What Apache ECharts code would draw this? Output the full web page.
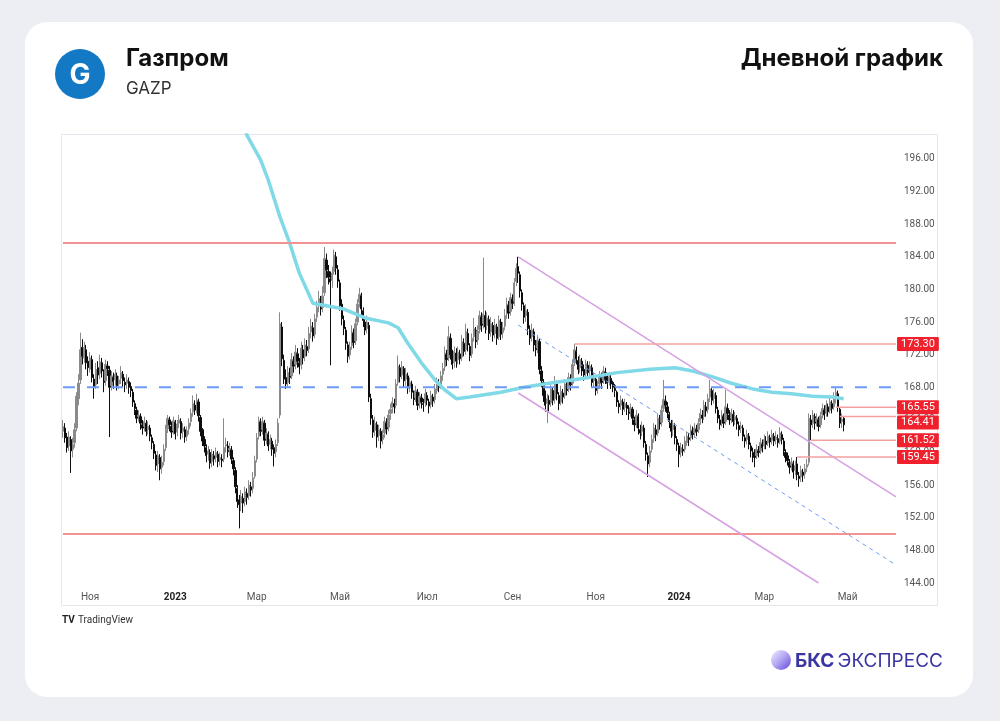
<!DOCTYPE html>
<html lang="ru">
<head>
<meta charset="utf-8">
<title>Газпром — дневной график</title>
<script src="https://cdn.jsdelivr.net/npm/echarts@6/dist/echarts.min.js"></script>
<style>
  html, body { margin: 0; padding: 0; background: #eceef3; }
  .card { position: absolute; left: 25px; top: 22px; width: 948px; height: 675px; background: #fff; border-radius: 22px; }
  #chart { position: absolute; left: 0; top: 0; width: 1000px; height: 721px; }
</style>
</head>
<body>
<div class="card"></div>
<div id="chart"></div>
<script>
// ось X: торговые дни (пн–пт) от первой свечи до правого края графика
const firstDay = '2022-10-12'
const lastAxisDay = '2024-06-05'
const monthNames = ['Янв', 'Фев', 'Мар', 'Апр', 'Май', 'Июн', 'Июл', 'Авг', 'Сен', 'Окт', 'Ноя', 'Дек']

// дневные свечи [open, close, low, high]
const candles2022 = [
  [162.6,163.2,161.8,164.0],[163.0,161.8,161.2,163.6],[161.9,160.6,160.0,162.4],[160.8,161.9,160.2,162.6],[161.6,160.2,157.5,162.0],
  [160.4,161.0,159.4,161.8],[161.2,162.8,160.6,163.6],[163.0,166.9,162.6,167.4],[166.6,168.5,165.8,169.6],[168.9,172.6,168.4,174.7],
  [172.9,171.8,170.8,173.9],[171.6,172.9,171.0,173.6],[172.6,171.0,170.2,173.2],[171.2,170.4,169.4,171.8],[170.2,171.6,169.8,172.3],
  [171.4,169.2,168.6,171.9],[169.0,168.1,166.6,169.6],[168.3,170.2,167.8,171.0],[170.4,169.5,168.4,171.2],[169.7,171.1,169.0,172.0],
  [171.0,170.0,169.2,171.6],[169.8,168.6,167.4,170.2],[168.8,170.8,168.2,171.4],[170.6,170.3,169.4,171.2],[170.1,168.0,161.9,170.6],
  [168.2,169.4,167.6,170.0],[169.2,168.7,167.8,169.8],[168.9,169.6,168.2,170.2],[169.4,168.2,167.6,169.8],[168.4,168.9,167.8,169.4],
  [169.1,169.8,168.4,170.6],[169.6,168.8,168.0,170.0],[168.6,168.3,167.4,169.2],[168.5,168.9,167.8,169.6],[168.7,168.0,167.2,169.2],
  [168.1,167.6,166.8,168.6],[167.4,166.2,165.6,167.8],[166.0,165.4,164.6,166.4],[165.2,164.2,163.6,165.6],[164.4,164.6,163.8,165.2],
  [164.4,163.6,162.8,164.8],[163.4,163.0,162.2,164.0],[163.2,163.8,162.6,164.4],[163.6,162.6,162.0,164.0],[162.8,163.2,162.2,163.8],
  [163.0,162.0,161.4,163.4],[161.8,161.2,160.4,162.2],[161.0,159.9,159.2,161.4],[159.7,158.4,157.8,160.2],[158.6,159.6,157.6,160.2],
  [159.4,158.0,156.6,159.8],[158.2,158.8,157.4,159.6],[158.9,160.4,158.4,161.0],[160.6,162.8,160.2,163.4],[162.9,164.2,162.4,164.6],
  [164.0,163.4,162.6,164.4],[163.2,162.5,161.8,163.8],[162.7,163.9,162.2,164.4]
]
const candles2023a = [
  [163.7,162.3,161.6,164.0],[162.5,163.5,162.0,164.0],[163.6,164.0,163.0,164.6],[163.8,162.4,161.6,164.2],[162.6,163.0,161.8,163.6],
  [162.8,161.9,161.2,163.2],[162.0,162.7,161.4,163.2],[162.9,163.6,162.2,164.2],[163.8,164.8,163.2,165.4],[165.0,166.0,164.4,167.0],
  [165.8,165.2,164.6,166.4],[165.4,166.4,164.8,167.2],[166.2,164.5,163.8,166.6],[164.3,162.6,162.0,164.6],[162.8,161.4,160.8,163.0],
  [161.6,160.8,160.0,162.0],[160.6,159.6,158.8,161.0],[159.8,160.2,159.0,160.8],[160.0,158.7,158.0,160.4],[158.9,159.8,158.2,160.4],
  [159.6,159.2,158.4,160.2],[159.4,160.0,158.8,160.6],[159.8,158.9,158.2,160.2],[159.1,159.4,158.4,160.0],[159.2,159.0,158.2,159.8],
  [159.2,160.6,158.8,164.2],[160.8,161.0,160.0,161.8],[160.8,160.1,159.4,161.4],[160.3,160.5,159.6,161.2],[160.3,159.2,158.6,160.8],
  [159.0,158.0,157.2,159.4],[157.8,155.8,155.0,158.2],[155.6,154.0,153.2,156.0],[154.2,153.6,150.7,154.8],[153.8,154.6,152.8,155.4],
  [154.4,153.8,152.6,155.0],[154.0,155.2,153.4,155.8],[155.0,154.5,153.6,155.6],[154.7,156.0,154.2,156.6],[155.8,155.4,154.6,156.4],
  [155.6,156.9,155.0,157.6],[157.1,159.0,156.8,159.6],[159.2,161.8,158.8,162.4],[162.0,163.9,161.6,164.4],[163.7,162.6,162.0,164.2],
  [162.8,163.8,162.2,164.4],[163.6,161.5,160.8,164.0],[161.7,162.4,161.0,163.0],[162.2,160.8,160.2,162.6],[161.0,161.6,160.4,162.2],
  [161.4,160.4,159.6,161.8],[160.6,159.9,158.3,161.0],[160.1,161.0,159.4,161.6],[161.2,163.6,160.8,164.2],[164.6,175.8,164.2,177.2],
  [175.4,171.5,170.6,176.0],[171.3,169.0,168.4,172.0],[169.2,168.4,167.8,170.2],[168.6,169.8,168.0,170.6],[169.6,169.2,168.4,170.4],
  [169.4,171.4,169.0,172.2],[171.2,170.6,169.8,171.8],[170.8,172.3,170.2,173.2],[172.1,171.2,170.4,172.8],[171.0,170.5,169.6,171.6],
  [170.7,172.8,170.2,173.6],[172.6,171.6,170.8,173.2],[171.8,173.2,171.2,174.0],[173.0,172.5,171.8,173.8],[172.7,174.6,172.2,175.4],
  [174.8,175.5,174.0,176.4],[175.3,174.3,173.6,176.0],[174.5,176.4,174.0,177.0],[176.6,177.8,176.0,178.6],[178.0,178.9,177.2,179.8],
  [178.7,177.6,176.8,179.2],[177.8,179.2,177.2,180.4],[179.6,183.8,179.2,185.2],[183.6,182.4,181.4,184.4],[182.2,181.5,180.6,183.0],
  [181.3,180.9,170.7,182.2],[181.1,182.0,180.2,182.8],[182.2,184.2,181.8,184.9],[184.0,182.6,181.8,184.6],[182.4,181.0,180.2,183.0],
  [180.8,178.0,177.4,181.2],[178.2,176.4,175.6,178.8],[176.2,175.2,174.4,176.8],[175.0,173.4,172.6,175.4],[173.2,171.8,171.0,173.6],
  [172.0,172.9,171.4,173.6],[173.1,174.8,172.6,175.6],[174.6,173.5,172.8,175.2],[173.7,175.8,173.2,176.4],[176.0,178.2,175.6,178.8],
  [178.4,179.4,177.8,180.2],[179.2,177.6,176.8,179.6],[177.4,176.2,175.4,177.8],[176.0,175.0,174.4,176.6],[175.2,176.0,174.6,176.8],
  [175.6,166.8,166.2,176.0],[166.6,164.2,163.4,167.2],[164.0,162.5,161.8,164.6],[162.7,163.6,162.0,164.4],[163.4,161.9,160.6,163.8],
  [162.1,162.8,161.4,163.4],[162.6,161.4,160.5,163.0],[161.6,162.2,161.0,162.8],[162.4,163.8,161.8,164.4],[163.6,162.9,162.2,164.2],
  [163.1,164.6,162.6,165.2],[164.8,165.3,164.0,166.0],[165.5,166.2,164.8,166.8],[166.0,165.6,164.8,166.6],[165.8,168.4,165.4,169.0],
  [168.6,170.6,168.2,171.9],[170.4,169.3,168.6,170.8],[169.5,170.5,169.0,171.2],[170.3,168.8,168.0,170.6],[169.0,169.6,168.2,170.4],
  [169.4,167.9,167.2,169.8],[168.1,168.6,167.4,169.2],[168.4,167.4,166.6,168.8],[167.2,166.5,165.8,167.6],[166.7,167.6,166.2,168.2],
  [167.4,165.8,165.2,167.8],[166.0,166.9,165.4,167.4],[166.7,166.2,165.4,167.2],[166.0,165.9,165.0,166.6],[166.1,167.2,165.6,167.8]
]
const candles2023b = [
  [167.0,166.4,165.8,167.4],[166.2,165.7,164.8,166.6],[165.9,167.0,165.4,167.6],[166.8,166.3,165.6,167.2],[166.5,167.8,166.0,168.4],
  [167.6,168.6,167.2,169.2],[168.4,168.0,167.4,169.0],[168.2,169.4,167.8,170.0],[169.6,170.3,168.8,171.0],[170.5,172.2,170.0,173.0],
  [172.0,171.4,170.6,172.6],[171.6,174.2,171.2,175.5],[174.0,172.0,171.4,174.6],[172.2,170.8,170.2,172.6],[171.0,172.4,170.4,173.0],
  [172.2,171.2,170.4,172.8],[171.4,172.3,170.8,173.0],[172.1,171.5,170.8,172.6],[171.7,173.6,171.2,174.4],[173.4,172.4,171.8,174.0],
  [172.6,174.8,172.0,175.8],[174.6,173.2,172.4,175.2],[173.0,171.9,171.2,173.4],[172.1,174.0,171.6,174.6],[174.2,175.2,173.6,176.5],
  [175.0,173.6,172.8,175.4],[173.8,174.9,173.2,175.6],[175.1,176.8,174.6,177.4],[176.6,175.6,174.8,177.2],[175.8,177.0,175.2,183.9],
  [176.8,175.4,174.6,177.4],[175.6,176.5,175.0,177.2],[176.3,174.6,173.8,176.8],[174.8,175.8,174.2,176.6],[175.6,174.4,173.6,176.0],
  [174.6,175.6,174.0,176.4],[175.4,174.0,173.2,175.8],[174.2,176.2,173.8,176.8],[176.0,174.5,173.8,176.4],[174.7,175.3,174.0,176.0],
  [175.5,176.8,175.0,177.6],[177.0,178.2,176.4,179.0],[178.0,177.1,176.4,178.6],[177.3,179.0,176.8,179.6],[178.8,178.3,177.6,179.4],
  [178.5,180.8,178.0,181.4],[181.0,182.6,180.4,183.2],[182.8,182.0,180.8,184.0],[181.8,179.8,179.0,182.2],[179.6,178.2,177.4,180.0],
  [178.0,176.6,175.8,178.4],[176.8,177.4,176.0,178.2],[177.2,175.2,174.4,177.6],[175.0,174.0,173.2,175.6],[174.2,175.0,173.6,175.8],
  [174.8,173.2,172.4,175.2],[173.4,172.6,171.8,173.8],[172.8,173.8,172.2,174.4],[173.6,170.2,169.6,174.0],[170.0,168.8,168.0,170.6],
  [168.6,167.0,166.2,169.0],[167.2,165.8,165.0,167.6],[166.0,166.6,163.6,167.2],[166.4,165.9,165.0,167.0],[166.1,167.8,165.6,168.4],
  [167.6,166.4,165.8,168.0],[166.6,168.6,166.0,169.4],[168.4,167.2,166.4,168.8],[167.0,166.0,165.2,167.4],[166.2,167.5,165.8,168.2],
  [167.3,166.8,166.0,167.8],[167.0,168.4,166.6,169.0],[168.2,167.6,167.0,168.8],[167.8,169.2,167.4,169.8],[169.0,168.3,167.6,169.6],
  [168.5,170.8,168.2,171.4],[171.0,172.6,170.6,173.3],[172.4,171.5,170.8,173.0],[171.3,170.2,169.6,171.8],[170.4,171.4,169.8,172.0],
  [171.2,170.0,169.4,171.6],[170.2,169.5,168.8,170.8],[169.7,170.9,169.2,171.4],[170.7,169.8,169.0,171.2],[170.0,170.6,169.4,171.2],
  [170.4,168.6,168.0,170.8],[168.8,169.2,168.0,169.8],[169.0,167.6,167.0,169.4],[167.8,168.2,167.2,168.8],[168.4,169.4,167.8,170.0],
  [169.2,168.6,167.8,169.8],[168.8,170.0,168.4,170.6],[169.8,169.0,168.4,170.4],[169.2,168.5,167.8,169.6],[168.7,169.3,168.2,169.8],
  [169.1,168.4,167.8,169.6],[168.6,168.0,167.4,168.8],[168.2,167.6,166.8,168.4],[167.4,166.2,165.6,167.6],[166.0,165.6,164.8,166.4],
  [165.8,166.4,165.2,167.0],[166.2,165.3,164.6,166.6],[165.5,166.0,165.0,166.6],[165.8,165.4,164.6,166.2],[165.2,164.8,164.0,165.8],
  [165.0,165.5,164.4,166.0],[165.3,164.2,163.4,165.6],[164.0,163.4,162.6,164.4],[163.6,164.6,163.0,165.2],[164.4,163.0,162.2,164.8],
  [162.8,162.4,161.6,163.4],[162.6,163.2,162.0,163.8],[163.0,161.2,160.6,163.4],[161.0,159.8,159.0,161.4],[159.6,158.6,157.0,160.0],
  [158.8,160.2,158.2,160.8],[160.4,161.6,160.0,162.2],[161.8,163.0,161.2,163.6],[162.8,162.2,161.4,163.4],[162.4,164.2,162.0,164.8],
  [164.0,163.5,162.8,164.6],[163.7,165.2,163.2,165.8],[165.4,166.5,165.0,168.9],[166.3,165.8,165.0,167.0],[165.6,164.9,164.2,166.2],
  [164.7,163.8,163.0,165.0],[163.6,162.6,161.8,164.0],[162.8,163.4,162.0,164.0],[163.2,161.8,161.0,163.6],[161.6,161.0,160.2,162.0]
]
const candles2024 = [
  [160.8,159.8,158.2,161.2],[160.0,160.6,159.4,161.2],[160.4,160.2,159.6,161.0],[160.4,161.4,160.0,162.0],[161.2,162.0,160.8,162.6],
  [161.8,161.6,160.8,162.4],[161.8,162.8,161.4,163.4],[162.6,162.2,161.6,163.2],[162.4,163.0,161.8,163.6],[162.8,162.6,162.0,163.4],
  [162.8,163.6,162.4,164.2],[163.8,164.8,163.4,165.4],[164.6,164.2,163.6,165.2],[164.4,165.8,164.0,166.4],[165.6,165.1,164.4,166.2],
  [165.3,166.6,164.8,167.2],[166.8,167.8,166.2,168.9],[167.6,166.4,165.8,168.0],[166.6,167.2,166.0,167.8],[167.0,165.4,164.8,167.4],
  [165.2,164.2,163.6,165.6],[164.0,163.4,162.8,164.6],[163.6,164.6,163.2,165.2],[164.4,163.6,163.0,164.8],[163.8,165.6,163.4,167.7],
  [165.4,164.8,164.0,166.0],[164.6,164.0,163.4,165.2],[164.2,164.9,163.6,165.4],[164.7,163.8,163.2,165.2],[164.0,164.4,163.4,165.0],
  [164.2,163.5,162.8,164.6],[163.3,162.8,162.0,163.8],[163.0,163.2,162.4,163.8],[163.0,162.0,161.4,163.4],[161.8,161.4,160.6,162.2],
  [161.6,162.2,161.0,162.8],[162.0,161.0,160.4,162.4],[160.8,160.2,159.4,161.2],[160.0,159.6,158.8,160.6],[159.8,159.4,158.2,160.4],
  [159.6,160.4,159.2,161.0],[160.2,160.0,159.4,160.8],[160.2,161.2,159.8,161.8],[161.0,160.6,160.0,161.6],[160.8,161.6,160.4,162.2],
  [161.4,161.0,160.4,162.0],[161.2,162.0,160.8,162.6],[161.8,161.3,160.6,162.2],[161.5,162.2,161.0,162.8],[162.0,161.4,160.8,162.4],
  [161.6,161.9,161.0,162.6],[161.7,161.2,160.6,162.2],[161.4,162.4,161.0,163.1],[162.2,161.6,161.0,162.6],[161.4,160.2,159.6,161.8],
  [160.0,159.4,158.8,160.4],[159.6,159.0,158.4,160.0],[158.8,158.2,157.4,159.2],[158.4,158.8,157.8,159.4],[158.6,157.6,156.8,159.0],
  [157.8,158.4,157.2,159.0],[158.6,157.3,156.6,159.45],[157.1,156.8,155.8,157.6],[157.0,157.8,156.4,158.4],[157.6,157.2,156.4,158.0],
  [157.4,158.0,156.8,158.6],[158.2,158.5,157.6,159.2],[158.8,164.2,158.4,164.8],[164.0,163.4,161.52,164.6],[163.6,164.6,163.0,165.2],
  [164.4,163.6,162.8,164.8],[163.8,164.2,163.2,164.8],[164.0,163.2,162.6,164.4],[163.4,164.5,163.0,165.0],[164.7,165.4,164.2,166.0],
  [165.2,164.6,164.0,165.8],[164.8,165.8,164.4,166.4],[165.6,165.0,164.4,166.0],[165.2,166.2,164.8,166.8],[166.0,165.4,164.8,166.4],
  [165.6,166.8,165.2,167.4],[166.6,167.4,166.0,168.1],[167.2,165.55,165.0,167.6],[165.3,163.6,163.0,165.5],[163.8,164.1,163.0,164.8],
  [164.2,163.4,162.6,164.41]
]

// скользящая средняя (точки)
const maPoints = [
  ['2023-02-13', 203.5], ['2023-02-22', 198.9], ['2023-03-03', 195.9], ['2023-03-09', 193.4], ['2023-03-17', 188.9],
  ['2023-03-24', 185.7], ['2023-03-31', 182.0], ['2023-04-11', 178.3], ['2023-04-20', 178.0], ['2023-05-03', 177.6],
  ['2023-05-18', 176.5], ['2023-06-05', 175.9], ['2023-06-12', 175.3], ['2023-06-19', 173.4], ['2023-06-28', 171.0],
  ['2023-07-07', 168.9], ['2023-07-14', 167.7], ['2023-07-24', 166.6], ['2023-08-02', 166.8], ['2023-08-24', 167.4],
  ['2023-09-11', 168.0], ['2023-09-28', 168.5], ['2023-10-24', 169.1], ['2023-11-16', 169.8], ['2023-12-11', 170.2],
  ['2023-12-28', 170.4], ['2024-01-10', 170.0], ['2024-01-24', 169.3], ['2024-02-07', 168.5], ['2024-02-22', 167.8],
  ['2024-03-07', 167.4], ['2024-03-21', 167.2], ['2024-04-05', 166.9], ['2024-04-19', 166.8], ['2024-04-29', 166.6]
]

// горизонтальные уровни
const rangeTop = 185.7
const rangeBottom = 150.0
const midLevel = 168.0
const priceLevels = [
  { value: 173.30, from: '2023-10-17' },
  { value: 165.55, from: '2024-04-23' },
  { value: 164.41, from: '2024-04-25' },
  { value: 161.52, from: '2024-04-04' },
  { value: 159.45, from: '2024-03-26' }
]

// нисходящий канал
const channelUpper = [['2023-09-06', 184.0], ['2024-06-05', 154.55]]
const channelMiddle = [['2023-09-06', 175.64], ['2024-06-05', 146.21]]
const channelLower = [['2023-09-06', 167.3], ['2024-04-10', 144.0]]

// оси
const yMin = 144
const yMax = 198.94
const yStep = 4

const days = []
for (let t = Date.parse(firstDay); t <= Date.parse(lastAxisDay); t += 864e5) {
  const wd = new Date(t).getUTCDay()
  if (wd !== 0 && wd !== 6) days.push(new Date(t).toISOString().slice(0, 10))
}
const lastDay = days[days.length - 1]
const candles = [...candles2022, ...candles2023a, ...candles2023b, ...candles2024]

// подписи на оси X — первый день каждого второго месяца
const monthOf = d => +d.slice(5, 7) - 1
const labelIdx = new Set()
days.forEach((d, i) => {
  if (i > 0 && monthOf(d) !== monthOf(days[i - 1]) && monthOf(d) % 2 === 0) labelIdx.add(i)
})

// плашки, которые TradingView раздвигает, чтобы не налезали друг на друга
const labelShift = { '164.41': 6 }

const lineSeries = (data, color, width, type, extra) => ({
  type: 'line',
  data,
  symbol: 'none',
  silent: true,
  lineStyle: { color, width, type },
  z: 4,
  ...extra
})

const series = [
  {
    type: 'candlestick',
    data: candles,
    barWidth: '90%',
    itemStyle: {
      color: '#8a8a8a',
      color0: '#0d0d0d',
      borderColor: '#8a8a8a',
      borderColor0: '#0d0d0d',
      borderWidth: 1
    },
    z: 2
  },
  lineSeries(maPoints, '#80d9e6', 3.5, 'solid', { z: 3 }),
  lineSeries([[days[0], rangeTop], [lastDay, rangeTop]], '#f39292', 2, 'solid'),
  lineSeries([[days[0], rangeBottom], [lastDay, rangeBottom]], '#f39292', 2, 'solid'),
  lineSeries([[days[0], midLevel], [lastDay, midLevel]], '#6e9bf3', 2, [12, 12]),
  lineSeries(channelUpper, '#d6a0e2', 1.5, 'solid'),
  lineSeries(channelLower, '#d6a0e2', 1.5, 'solid'),
  lineSeries(channelMiddle, '#6e9bf3', 1, [4, 4]),
  ...priceLevels.map(l => lineSeries([[l.from, l.value], [lastDay, l.value]], '#f5a0a0', 1.5, 'solid', {
    z: 5,
    endLabel: {
      show: true,
      formatter: () => l.value.toFixed(2),
      distance: 1,
      offset: [0, labelShift[l.value.toFixed(2)] || 0],
      backgroundColor: '#f0212c',
      color: '#fff',
      fontSize: 11,
      fontFamily: 'Roboto',
      padding: [2, 4, 1, 4],
      borderRadius: 1
    }
  }))
]

const bksGrad = new echarts.graphic.LinearGradient(0, 0, 1, 1, [
  { offset: 0, color: '#f1eeff' },
  { offset: 0.45, color: '#b8acf4' },
  { offset: 1, color: '#5f48dc' }
])

const option = {
  backgroundColor: 'transparent',
  animation: false,
  grid: { left: 62, right: 103, top: 135, bottom: 138, containLabel: false },
  xAxis: {
    type: 'category',
    data: days,
    boundaryGap: true,
    axisLine: { show: false },
    axisTick: { show: false },
    splitLine: { show: false },
    axisLabel: {
      interval: i => labelIdx.has(i),
      margin: 9,
      color: '#555',
      fontSize: 10,
      fontFamily: 'Roboto',
      formatter: v => (monthOf(v) === 0 ? `{y|${v.slice(0, 4)}}` : monthNames[monthOf(v)]),
      rich: { y: { fontWeight: 'bold', color: '#222', fontSize: 10, fontFamily: 'Roboto' } }
    }
  },
  yAxis: {
    type: 'value',
    position: 'right',
    min: yMin,
    max: yMax,
    interval: yStep,
    axisLine: { show: false },
    axisTick: { show: false },
    splitLine: { show: false },
    axisLabel: {
      color: '#555',
      fontSize: 10,
      fontFamily: 'Roboto',
      margin: 7,
      showMaxLabel: false,
      formatter: v => v.toFixed(2)
    }
  },
  series,
  graphic: [
    // рамка графика
    { type: 'rect', shape: { x: 61.5, y: 134.5, width: 876, height: 471 }, style: { fill: 'none', stroke: '#e4e6ed', lineWidth: 1 }, silent: true },
    // логотип Газпрома
    { type: 'circle', shape: { cx: 80, cy: 74, r: 25 }, style: { fill: '#1479c4' } },
    { type: 'text', x: 80, y: 76, style: { text: 'G', fill: '#fff', font: 'bold 28px Inter', align: 'center', verticalAlign: 'middle' } },
    { type: 'text', x: 126, y: 59, style: { text: 'Газпром', fill: '#111', font: 'bold 24px Inter', verticalAlign: 'middle' } },
    { type: 'text', x: 126, y: 89, style: { text: 'GAZP', fill: '#333', font: '17px Inter', verticalAlign: 'middle' } },
    { type: 'text', x: 943, y: 59, style: { text: 'Дневной график', fill: '#111', font: 'bold 24px Inter', align: 'right', verticalAlign: 'middle' } },
    // подпись TradingView
    { type: 'text', x: 62, y: 620, style: { text: 'TV', fill: '#222', font: 'bold 10px Roboto', verticalAlign: 'middle' } },
    { type: 'text', x: 78, y: 620, style: { text: 'TradingView', fill: '#333', font: '10px Roboto', verticalAlign: 'middle' } },
    // БКС Экспресс
    { type: 'circle', shape: { cx: 781, cy: 660, r: 10 }, style: { fill: bksGrad } },
    {
      type: 'text', x: 795, y: 661,
      style: {
        text: '{b|БКС} {r|ЭКСПРЕСС}',
        verticalAlign: 'middle',
        rich: {
          b: { font: 'bold 19px Inter', fill: '#3a35a3' },
          r: { font: '19px Inter', fill: '#3a35a3' }
        }
      }
    }
  ]
}

const chart = echarts.init(document.getElementById('chart'))
chart.setOption(option)
</script>
</body>
</html>
